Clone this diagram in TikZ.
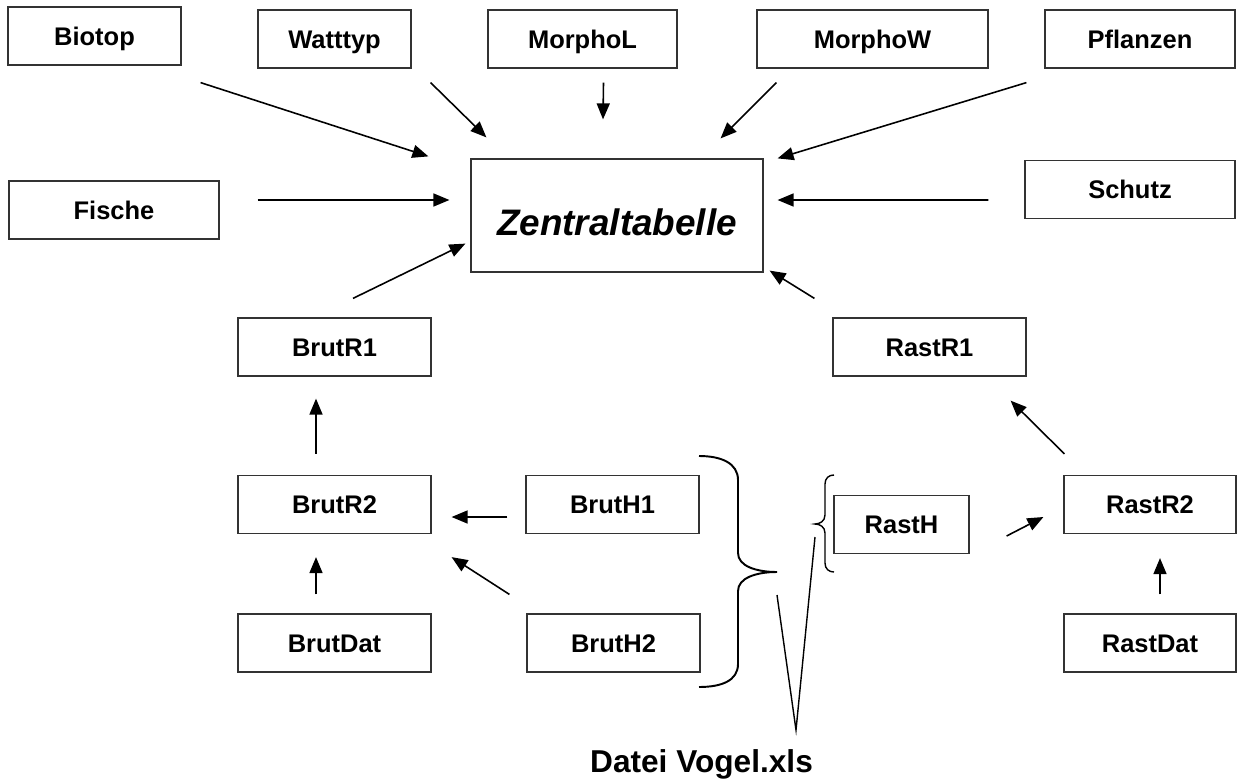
\documentclass[tikz,border=0pt]{standalone}
\usepackage{fontspec}
\setmainfont{Liberation Sans}
\usetikzlibrary{arrows.meta}
\tikzset{tab/.style={draw=black!80, line width=0.7pt, rectangle, minimum height=1.16cm, inner sep=0pt, font=\fontsize{14.5}{17}\selectfont\bfseries, text height=0.365cm, text depth=0pt},
  link/.style={-{Triangle[length=0.32cm,width=0.26cm]}, line width=0.9pt},
  klammer/.style={line width=1.1pt}}

\begin{document}
\begin{tikzpicture}[x=0.02cm,y=-0.02cm]
      \useasboundingbox (0,0) rectangle (1237,781);

      % obere Reihe
      \node[tab,minimum width=3.46cm] (biotop) at (94.5,36) {Biotop};
      \node[tab,minimum width=3.06cm] (watttyp) at (334.5,39) {Watttyp};
      \node[tab,minimum width=3.78cm] (morphoL) at (582.5,39) {MorphoL};
      \node[tab,minimum width=4.62cm] (morphoW) at (872.5,39) {MorphoW};
      \node[tab,minimum width=3.8cm] (pflanzen) at (1140,39) {Pflanzen};

      \node[tab,minimum width=4.2cm] (fische) at (114,210) {Fische};
      \node[tab,minimum width=4.2cm] (schutz) at (1130,189.5) {Schutz};

      \node[draw=black!80,line width=0.7pt,rectangle,minimum width=5.84cm,minimum height=2.26cm,inner sep=0pt,
        font=\fontsize{21}{25}\selectfont\bfseries\itshape,text height=0.81cm,text depth=0pt] (zentral) at (617,215.5) {Zentraltabelle};

      % Brut
      \node[tab,minimum width=3.86cm] (brutR1) at (334.5,347) {BrutR1};
      \node[tab,minimum width=3.86cm] (brutR2) at (334.5,504.5) {BrutR2};
      \node[tab,minimum width=3.86cm] (brutDat) at (334.5,643) {BrutDat};
      \node[tab,minimum width=3.46cm] (brutH1) at (612.5,504.5) {BrutH1};
      \node[tab,minimum width=3.46cm] (brutH2) at (613.5,643) {BrutH2};

      % Rast
      \node[tab,minimum width=3.86cm] (rastR1) at (929.5,347) {RastR1};
      \node[tab,minimum width=2.7cm] (rastH) at (901.5,524.5) {RastH};
      \node[tab,minimum width=3.44cm] (rastR2) at (1150,504.5) {RastR2};
      \node[tab,minimum width=3.44cm] (rastDat) at (1150,643) {RastDat};

      \node[anchor=base,font=\fontsize{18}{21}\selectfont\bfseries] (datei) at (701.5,772) {Datei Vogel.xls};

      % Pfeile zur Zentraltabelle
      \draw[link] ([shift={(19,17)}]biotop.south east) -- ([shift={(-42,-2)}]zentral.north west);
      \draw[link] ([shift={(19,14)}]watttyp.south east) -- ([shift={(16,-21)}]zentral.north west);
      \draw[link] ([shift={(21,14)}]morphoL.south) -- ([shift={(-14,-39)}]zentral.north);
      \draw[link] ([shift={(20,14)}]morphoW.south west) -- ([shift={(-43,-20)}]zentral.north east);
      \draw[link] ([shift={(-18,14)}]pflanzen.south west) -- ([shift={(14,0)}]zentral.north east);
      \draw[link] ([shift={(38,-10)}]fische.east) -- ([shift={(-21,-15.5)}]zentral.west);
      \draw[link] ([shift={(-36,10.5)}]schutz.west) -- ([shift={(14,-15.5)}]zentral.east);
      \draw[link] ([shift={(18.5,-19)}]brutR1.north) -- ([shift={(-5,-29)}]zentral.south west);
      \draw[link] ([shift={(-18,-19)}]rastR1.north west) -- ([shift={(6,-2)}]zentral.south east);

      \draw[link] ([shift={(-18.5,-21)}]brutR2.north) -- ([shift={(-18.5,22)}]brutR1.south);
      \draw[link] ([shift={(-18,12.5)}]brutH1.west) -- ([shift={(20,12.5)}]brutR2.east);
      \draw[link] ([shift={(-18.5,-19)}]brutDat.north) -- ([shift={(-18.5,23)}]brutR2.south);
      \draw[link] ([shift={(-17,-19)}]brutH2.north west) -- ([shift={(20,23)}]brutR2.south east);

      \draw[link] ([shift={(37,11.5)}]rastH.east) -- ([shift={(-20,12.5)}]rastR2.west);
      \draw[link] ([shift={(10,-19)}]rastDat.north) -- ([shift={(10,24)}]rastR2.south);
      \draw[link] ([shift={(1,-21)}]rastR2.north west) -- ([shift={(-16,24)}]rastR1.south east);

      % Klammern
      \draw[klammer] (699,456) .. controls (721,456) and (738,463) .. (738,480) -- (738,553)
        .. controls (738,566) and (756,572) .. (777,572) coordinate (bigtip)
        .. controls (756,572) and (738,578) .. (738,591) -- (738,664)
        .. controls (738,681) and (721,687) .. (699,687);
      \draw[line width=0.8pt] (834,475) .. controls (829,475) and (825,478) .. (825,484) -- (825,515)
        .. controls (825,521) and (820,524) .. (815,524) coordinate (smalltip)
        .. controls (820,524) and (825,527) .. (825,533) -- (825,563)
        .. controls (825,569) and (829,572) .. (834,572);

      \coordinate (vtip) at (796,730);
      \draw[line width=0.8pt] ([shift={(0,23)}]bigtip) -- (vtip) -- ([shift={(0,13)}]smalltip);
\end{tikzpicture}
\end{document}
